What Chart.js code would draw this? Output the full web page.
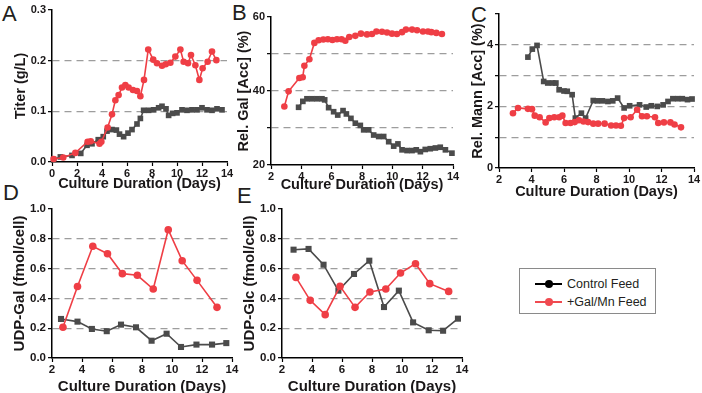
<!DOCTYPE html>
<html>
<head>
<meta charset="utf-8">
<script src="https://cdn.jsdelivr.net/npm/chart.js@4.4.1/dist/chart.umd.min.js"></script>
<style>
  body { margin: 0; width: 702px; height: 393px; overflow: hidden; background: #fff; position: relative;
         font-family: 'Liberation Sans', Arial, sans-serif; }
  canvas { position: absolute; }
  .letter { position: absolute; font-size: 22px; line-height: 1; color: #231f20; }
  #legend { position: absolute; left: 519px; top: 268px; width: 137px; height: 46px;
            border: 1px solid #8a8a8a; box-sizing: border-box; }
  #legend .ln { position: absolute; left: 15px; width: 27px; height: 2px; }
  #legend .dot { position: absolute; left: 25px; width: 8px; height: 8px; border-radius: 50%; }
  #legend .txt { position: absolute; left: 47px; font-size: 12.5px; line-height: 14px; color: #231f20; }
</style>
</head>
<body>
<div class="letter" style="left:2px;top:3px">A</div>
<div class="letter" style="left:232px;top:2px">B</div>
<div class="letter" style="left:471px;top:4px">C</div>
<div class="letter" style="left:3px;top:182px">D</div>
<div class="letter" style="left:237px;top:185px">E</div>

<canvas id="panelA"></canvas>
<canvas id="panelB"></canvas>
<canvas id="panelC"></canvas>
<canvas id="panelD"></canvas>
<canvas id="panelE"></canvas>

<div id="legend">
  <div class="ln" style="top:14px;background:#000"></div>
  <div class="dot" style="top:11px;background:#000"></div>
  <div class="txt" style="top:8px">Control Feed</div>
  <div class="ln" style="top:32px;background:#f04a50"></div>
  <div class="dot" style="top:29px;background:#f04a50"></div>
  <div class="txt" style="top:26px">+Gal/Mn Feed</div>
</div>

<script>
// A - Titer
const aCtrlDays = [0.13, 0.67, 1.6, 2.3, 2.8, 3.2, 3.7, 4.1, 4.4, 4.8, 5.15, 5.4, 5.73, 6.08, 6.4, 6.8, 7.07, 7.33, 7.73, 8.13, 8.53, 8.8, 9.12, 9.33, 9.65, 10.0, 10.4, 10.8, 11.2, 11.6, 12.0, 12.4, 12.8, 13.2, 13.6];
const aCtrlTiter = [0.005, 0.01, 0.013, 0.017, 0.033, 0.036, 0.044, 0.05, 0.061, 0.064, 0.063, 0.055, 0.05, 0.057, 0.064, 0.075, 0.086, 0.102, 0.102, 0.103, 0.107, 0.11, 0.105, 0.092, 0.096, 0.097, 0.103, 0.102, 0.103, 0.103, 0.107, 0.103, 0.102, 0.105, 0.103];
const aGalDays = [0.13, 0.9, 1.87, 2.85, 3.1, 3.8, 3.95, 4.45, 4.8, 5.07, 5.33, 5.6, 5.87, 6.13, 6.48, 6.8, 7.07, 7.36, 7.7, 8.1, 8.4, 8.8, 9.1, 9.47, 9.87, 10.27, 10.53, 10.88, 11.12, 11.47, 11.79, 12.05, 12.45, 12.8, 13.15];
const aGalTiter = [0.006, 0.009, 0.018, 0.04, 0.041, 0.036, 0.04, 0.068, 0.094, 0.122, 0.132, 0.147, 0.152, 0.147, 0.142, 0.14, 0.13, 0.162, 0.222, 0.202, 0.195, 0.19, 0.193, 0.196, 0.208, 0.222, 0.198, 0.195, 0.211, 0.191, 0.162, 0.185, 0.198, 0.218, 0.201];

// B - Rel. Gal
const bCtrlDays = [3.82, 4.1, 4.37, 4.7, 5.03, 5.36, 5.54, 5.8, 6.13, 6.4, 6.75, 6.97, 7.27, 7.56, 7.89, 8.11, 8.44, 8.77, 9.1, 9.43, 9.76, 10.09, 10.37, 10.64, 10.97, 11.3, 11.58, 11.85, 12.17, 12.5, 12.84, 13.16, 13.5, 13.93];
const bCtrlGal = [35.6, 37.2, 37.9, 37.9, 37.9, 37.9, 37.6, 35.5, 34.4, 33.5, 34.7, 33.8, 32.6, 31.3, 30.7, 29.5, 29.5, 28.1, 27.7, 27.7, 26.3, 25.1, 25.7, 24.1, 23.9, 23.9, 24.1, 23.6, 24.2, 24.4, 24.6, 24.8, 24.1, 23.2];
const bGalDays = [2.88, 3.16, 3.87, 4.09, 4.2, 4.53, 4.86, 5.14, 5.45, 5.75, 6.05, 6.35, 6.65, 6.9, 7.16, 7.56, 7.93, 8.33, 8.66, 8.95, 9.32, 9.65, 9.98, 10.3, 10.64, 10.9, 11.3, 11.63, 12.02, 12.35, 12.57, 12.9, 13.27];
const bGalGal = [35.8, 39.9, 43.5, 43.7, 46.8, 48.6, 53, 53.7, 53.9, 54, 53.8, 54, 54, 53.6, 54.6, 54.9, 55.5, 55.3, 55.4, 56.1, 56, 55.8, 55.5, 55.4, 55.9, 56.6, 56.6, 56.4, 56.1, 56.1, 55.9, 55.7, 55.4];

// C - Rel. Mann
const cCtrlDays = [3.78, 4.05, 4.34, 4.75, 5.0, 5.3, 5.5, 5.7, 6.0, 6.2, 6.5, 6.7, 7.07, 7.33, 7.8, 8.05, 8.36, 8.7, 9.0, 9.3, 9.7, 10.04, 10.65, 11.06, 11.37, 11.74, 12.1, 12.4, 12.7, 13.0, 13.28, 13.6, 13.88];
const cCtrlMann = [3.6, 3.86, 3.98, 2.81, 2.76, 2.76, 2.76, 2.54, 2.5, 2.49, 2.38, 1.62, 1.78, 1.62, 2.19, 2.18, 2.18, 2.16, 2.18, 2.27, 1.95, 2.02, 2.05, 1.98, 2.02, 2.0, 2.05, 2.16, 2.25, 2.25, 2.25, 2.22, 2.24];
const cGalDays = [2.86, 3.17, 3.78, 4.03, 4.2, 4.5, 4.87, 5.1, 5.4, 5.7, 5.9, 6.1, 6.4, 6.66, 6.92, 7.2, 7.48, 7.8, 8.1, 8.5, 8.9, 9.2, 9.5, 9.7, 10.1, 10.5, 10.8, 11.1, 11.6, 11.8, 12.15, 12.55, 12.8, 13.2];
const cGalMann = [1.78, 1.95, 1.92, 1.91, 1.7, 1.65, 1.48, 1.62, 1.65, 1.65, 1.7, 1.46, 1.46, 1.49, 1.55, 1.51, 1.49, 1.44, 1.44, 1.44, 1.38, 1.38, 1.37, 1.62, 1.65, 1.89, 1.68, 1.68, 1.65, 1.46, 1.48, 1.48, 1.41, 1.32];

// D - UDP-Gal
const dCtrlDays = [2.6, 3.7, 4.66, 5.65, 6.6, 7.6, 8.64, 9.64, 10.6, 11.63, 12.67, 13.62];
const dCtrlUdp = [0.262, 0.244, 0.195, 0.18, 0.224, 0.206, 0.116, 0.163, 0.074, 0.09, 0.09, 0.1];
const dGalDays = [2.73, 3.7, 4.72, 5.7, 6.69, 7.69, 8.75, 9.75, 10.68, 11.67, 13.0];
const dGalUdp = [0.206, 0.48, 0.75, 0.7, 0.566, 0.555, 0.463, 0.861, 0.653, 0.521, 0.34];

// E - UDP-Glc
const eCtrlDays = [2.77, 3.77, 4.77, 5.76, 6.8, 7.82, 8.8, 9.79, 10.74, 11.78, 12.74, 13.73];
const eCtrlUdp = [0.727, 0.732, 0.626, 0.452, 0.564, 0.653, 0.342, 0.452, 0.239, 0.186, 0.183, 0.264];
const eGalDays = [2.93, 3.88, 4.88, 5.87, 6.87, 7.86, 8.92, 9.9, 10.9, 11.85, 13.11];
const eGalUdp = [0.541, 0.387, 0.291, 0.481, 0.34, 0.443, 0.463, 0.57, 0.633, 0.499, 0.447];

const RED = "#ef3e45";
const GREY = "#4b4b4b";
const DASH_GREY = "#9d9d9d";
const INK = "#1a1718";
const FONT = "'Liberation Sans', Arial, sans-serif";

function pts(xs, ys) {
  return xs.map(function(x, i) { return {x: x, y: ys[i]}; });
}

function panel(id, p) {
  const padTop = 12, padRight = 9;
  const cv = document.getElementById(id);
  cv.width = (p.right - p.left) + p.yw + padRight;
  cv.height = (p.bottom - p.top) + padTop + p.xh;
  cv.style.left = (p.left - p.yw) + "px";
  cv.style.top = (p.top - padTop) + "px";

  const lh = p.titleSize * 1.2 / 2;

  new Chart(cv.getContext("2d"), {
    type: "line",
    data: {
      datasets: [{
        data: pts(p.galX, p.galY),
        borderColor: RED,
        backgroundColor: RED,
        borderWidth: 1.6,
        pointStyle: "circle",
        pointRadius: p.dot,
        pointBorderWidth: 0,
        clip: false
      }, {
        data: pts(p.ctrlX, p.ctrlY),
        borderColor: GREY,
        backgroundColor: GREY,
        borderWidth: 1.6,
        pointStyle: "rect",
        pointRadius: p.sq,
        pointBorderWidth: 0,
        clip: false
      }]
    },
    options: {
      responsive: false,
      animation: false,
      devicePixelRatio: 1,
      layout: { padding: { top: padTop, right: padRight, left: 0, bottom: 0 } },
      plugins: { legend: { display: false }, tooltip: { enabled: false } },
      scales: {
        x: {
          type: "linear",
          min: p.xMin,
          max: 14,
          afterFit: function(s) { s.height = p.xh; },
          ticks: {
            stepSize: 2,
            padding: p.tickPad,
            color: INK,
            font: { family: FONT, size: p.tickSize, weight: "bold" }
          },
          grid: { drawOnChartArea: false, tickLength: 4, tickColor: "#000", tickWidth: 1.2 },
          border: { color: "#000", width: 1.5 },
          title: {
            display: true,
            text: "Culture Duration (Days)",
            color: INK,
            padding: { top: 0, bottom: p.bottom + p.xh - p.xTitleY - lh },
            font: { family: FONT, size: p.titleSize, weight: "bold" }
          }
        },
        y: {
          min: p.yMin,
          max: p.yMax,
          afterFit: function(s) { s.width = p.yw; },
          ticks: {
            stepSize: p.yStep,
            padding: 2,
            color: INK,
            font: { family: FONT, size: p.tickSize, weight: "bold" },
            callback: p.yLabel
          },
          grid: {
            color: function(ctx) {
              const v = ctx.tick ? ctx.tick.value : null;
              return p.dashAt.some(function(d) { return v !== null && Math.abs(d - v) < 1e-6; }) ? DASH_GREY : "rgba(0,0,0,0)";
            },
            lineWidth: 1.3,
            tickLength: 4,
            tickColor: "#000",
            tickWidth: 1.2
          },
          border: { color: "#000", width: 1.5, dash: [7, 5] },
          title: {
            display: true,
            text: p.yTitle,
            color: INK,
            padding: { top: p.yTitleX - (p.left - p.yw) - lh, bottom: 0 },
            font: { family: FONT, size: p.titleSize, weight: "bold" }
          }
        }
      }
    }
  });
}

function oneDecimal(v) { return v.toFixed(1); }

panel("panelA", {
  left: 52, right: 227, top: 10, bottom: 162, yw: 52, xh: 32, xTitleY: 184, yTitleX: 21,
  xMin: 0, yMin: 0, yMax: 0.3, yStep: 0.1, dashAt: [0.1, 0.2],
  yTitle: "Titer (g/L)", yLabel: oneDecimal,
  tickSize: 11, titleSize: 14.5, tickPad: 1, dot: 3.3, sq: 4,
  ctrlX: aCtrlDays, ctrlY: aCtrlTiter, galX: aGalDays, galY: aGalTiter
});

panel("panelB", {
  left: 271, right: 453, top: 17, bottom: 165, yw: 41, xh: 30, xTitleY: 185, yTitleX: 244,
  xMin: 2, yMin: 20, yMax: 60, yStep: 10, dashAt: [30, 40, 50],
  yTitle: "Rel. Gal [Acc] (%)",
  yLabel: function(v) { return v % 20 === 0 ? v : ""; },
  tickSize: 11, titleSize: 14.5, tickPad: 1, dot: 3.3, sq: 4,
  ctrlX: bCtrlDays, ctrlY: bCtrlGal, galX: bGalDays, galY: bGalGal
});

panel("panelC", {
  left: 499, right: 694, top: 14, bottom: 168, yw: 39, xh: 34, xTitleY: 192, yTitleX: 478,
  xMin: 2, yMin: 0, yMax: 5, yStep: 1, dashAt: [1, 2, 3, 4],
  yTitle: "Rel. Mann [Acc] (%)",
  yLabel: function(v) { return (v % 2 === 0 && v < 5) ? v : ""; },
  tickSize: 11, titleSize: 14.5, tickPad: 1, dot: 3.3, sq: 4,
  ctrlX: cCtrlDays, ctrlY: cCtrlMann, galX: cGalDays, galY: cGalMann
});

panel("panelD", {
  left: 52, right: 232, top: 209, bottom: 358, yw: 52, xh: 38, xTitleY: 387, yTitleX: 20,
  xMin: 2, yMin: 0, yMax: 1, yStep: 0.2, dashAt: [0.2, 0.4, 0.6, 0.8],
  yTitle: "UDP-Gal (fmol/cell)", yLabel: oneDecimal,
  tickSize: 11.5, titleSize: 15, tickPad: 1, dot: 3.8, sq: 4.3,
  ctrlX: dCtrlDays, ctrlY: dCtrlUdp, galX: dGalDays, galY: dGalUdp
});

panel("panelE", {
  left: 282, right: 462, top: 209, bottom: 358, yw: 52, xh: 38, xTitleY: 387, yTitleX: 250,
  xMin: 2, yMin: 0, yMax: 1, yStep: 0.2, dashAt: [0.2, 0.4, 0.6, 0.8],
  yTitle: "UDP-Glc (fmol/cell)", yLabel: oneDecimal,
  tickSize: 11.5, titleSize: 15, tickPad: 1, dot: 3.8, sq: 4.3,
  ctrlX: eCtrlDays, ctrlY: eCtrlUdp, galX: eGalDays, galY: eGalUdp
});
</script>
</body>
</html>
